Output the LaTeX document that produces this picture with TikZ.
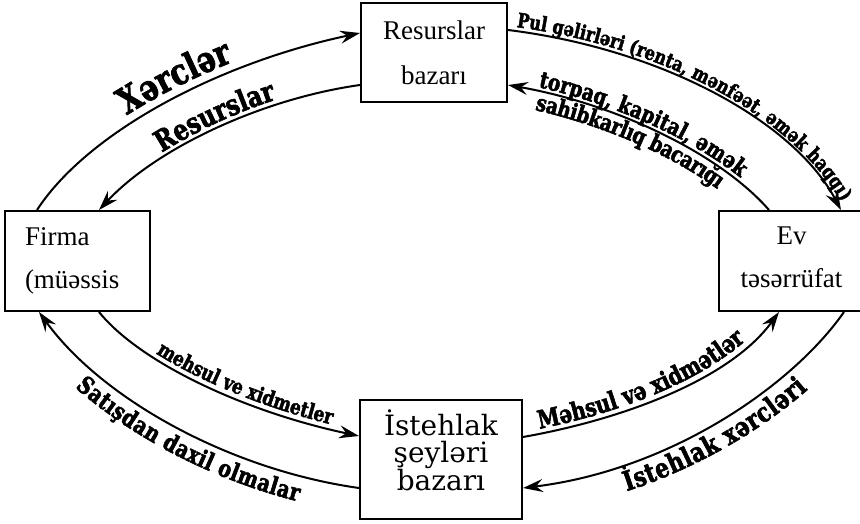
\documentclass[tikz,border=0pt]{standalone}
\usepackage{fontspec}
\setmainfont{Liberation Serif}
\newfontfamily\boxfont{DejaVu Serif}
\newfontfamily\lblfont[FakeStretch=0.8, FakeBold=2.2]{DejaVu Serif}
\usetikzlibrary{arrows.meta,decorations.text}

\newcommand{\lblhuge}{\lblfont\bfseries\fontsize{36}{38}\selectfont}
\newcommand{\lblbig}{\lblfont\bfseries\fontsize{29}{31}\selectfont}
\newcommand{\lblmid}{\lblfont\bfseries\fontsize{25}{27}\selectfont}
\newcommand{\lblsat}{\lblfont\bfseries\fontsize{24}{26}\selectfont}
\newcommand{\lblist}{\lblfont\bfseries\fontsize{27}{29}\selectfont}
\newcommand{\lblsmall}{\lblfont\bfseries\fontsize{23}{25}\selectfont}
\newcommand{\lblmeh}{\lblfont\bfseries\fontsize{21}{23}\selectfont}
\newcommand{\lblpul}{\lblfont\bfseries\fontsize{20}{22}\selectfont}

\begin{document}
\begin{tikzpicture}[x=1pt, y=1pt, line width=2pt,
        market/.style={draw, rectangle, inner sep=0pt, align=center},
        flow/.style={-{Stealth[length=20pt, width=13pt, inset=7pt]}},
        flowtext/.style={decorate, decoration={text along path, text={#1}}}]
    \useasboundingbox (0,0) rectangle (860,523);
    % 节点
    \node (res) [market, minimum width=146pt, minimum height=99pt,
        font=\fontsize{27}{45}\selectfont] at (434,470.5) {Resurslar\\bazarı};
    \node (firm) [market, minimum width=145pt, minimum height=100pt, text width=105pt, align=left,
        font=\fontsize{27}{43}\selectfont] at (77.5,262) {Firma\\(müəssis};
    \node (ev) [market, minimum width=145pt, minimum height=100pt,
        font=\fontsize{27}{43}\selectfont] at (791.5,262) {Ev\\təsərrüfat\\[-36pt]\mbox{}};
    \node (ist) [market, minimum width=162pt, minimum height=119pt,
        font=\boxfont\fontsize{28}{27.5}\selectfont] at (441,63.5) {İstehlak\\şeyləri\\bazarı\\[-8.7pt]\mbox{}};
    % 箭头
    \draw[flow] ([xshift=33pt]firm.north west) to[out=57, in=192, out distance=91pt, in distance=148pt] ([yshift=19.5pt]res.west);
    \draw[flow] ([yshift=-32.5pt]res.west) to[out=188, in=47, out distance=100pt, in distance=84pt] ([xshift=95pt]firm.north west);
    \draw[flow] ([yshift=22.5pt]res.east) to[out=-7, in=118, out distance=154pt, in distance=101pt] ([xshift=123pt]ev.north west);
    \draw[flow] ([xshift=51pt]ev.north west) to[out=131, in=-10, out distance=74pt, in distance=110pt] ([yshift=-32.5pt]res.east);
    \draw[flow] ([xshift=95pt]firm.south west) to[out=-51, in=168, out distance=65pt, in distance=118pt] ([yshift=23.5pt]ist.west);
    \draw[flow] ([yshift=-28.5pt]ist.west) to[out=172, in=-54, out distance=129pt, in distance=109pt] ([xshift=35pt]firm.south west);
    \draw[flow] ([yshift=22.5pt]ist.east) to[out=10, in=234, out distance=100pt, in distance=84pt] ([xshift=61pt]ev.south west);
    \draw[flow] ([xshift=126pt]ev.south west) to[out=235, in=7, out distance=91pt, in distance=148pt] ([yshift=-28.5pt]ist.east);
    % 文字
    \path[flowtext={|\lblhuge|Xərclər}, decoration={text align=center, raise=9pt}]
        ([xshift=33pt]firm.north west) to[out=57, in=192, out distance=91pt, in distance=148pt] ([yshift=19.5pt]res.west);
    \path[flowtext={|\lblbig|Resurslar}, decoration={text align=center, raise=5pt}]
        ([xshift=95pt]firm.north west) to[out=47, in=188, out distance=84pt, in distance=100pt] ([yshift=-32.5pt]res.west);
    \path[flowtext={|\lblpul|Pul gəlirləri (renta, mənfəət, əmək haqqı)}, decoration={text align={left, left indent=8pt}, raise=4pt}]
        ([yshift=22.5pt]res.east) to[out=-7, in=118, out distance=154pt, in distance=101pt] ([xshift=123pt]ev.north west);
    \path[flowtext={|\lblsmall|torpaq, kapital, əmək}, decoration={text align={left, left indent=30pt}, raise=4pt}]
        ([yshift=-32.5pt]res.east) to[out=-10, in=131, out distance=110pt, in distance=74pt] ([xshift=51pt]ev.north west);
    \path[flowtext={|\lblsmall|sahibkarlıq bacarığı}, decoration={text align={left, left indent=32pt}, raise=-19pt}]
        ([yshift=-32.5pt]res.east) to[out=-10, in=131, out distance=110pt, in distance=74pt] ([xshift=51pt]ev.north west);
    \path[flowtext={|\lblmeh|mehsul ve xidmetler}, decoration={text align={right, right indent=30pt}, raise=5pt}]
        ([xshift=95pt]firm.south west) to[out=-51, in=168, out distance=65pt, in distance=118pt] ([yshift=23.5pt]ist.west);
    \path[flowtext={|\lblsat|Satışdan daxil olmalar}, decoration={text align={left, left indent=77pt}, raise=-25pt}]
        ([xshift=35pt]firm.south west) to[out=-54, in=172, out distance=109pt, in distance=129pt] ([yshift=-28.5pt]ist.west);
    \path[flowtext={|\lblmid|Məhsul və xidmətlər}, decoration={text align={left, left indent=18pt}, raise=5pt}]
        ([yshift=22.5pt]ist.east) to[out=10, in=234, out distance=100pt, in distance=84pt] ([xshift=61pt]ev.south west);
    \path[flowtext={|\lblist|İstehlak xərcləri}, decoration={text align={left, left indent=98pt}, raise=-26pt}]
        ([yshift=-28.5pt]ist.east) to[out=7, in=235, out distance=148pt, in distance=91pt] ([xshift=126pt]ev.south west);
\end{tikzpicture}
\end{document}
